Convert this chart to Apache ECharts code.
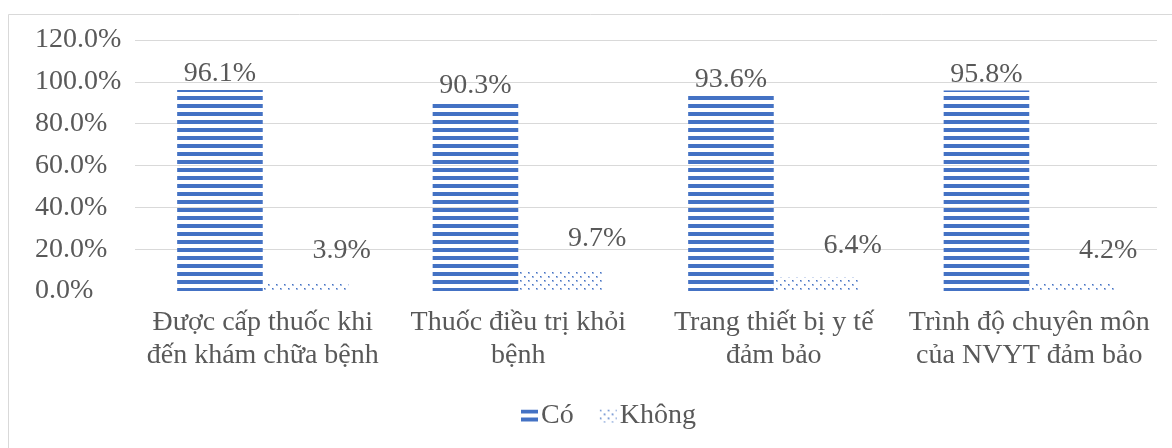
<!DOCTYPE html>
<html>
<head>
<meta charset="utf-8">
<script src="https://cdn.jsdelivr.net/npm/echarts@6/dist/echarts.min.js"></script>
<style>
	html, body { margin: 0; padding: 0; background: #fff; }
	#chart { width: 1172px; height: 448px; }
</style>
</head>
<body>
<div id="chart"></div>
<script>
// categories + values (percent)
const categories = [
	'Được cấp thuốc khi\nđến khám chữa bệnh',
	'Thuốc điều trị khỏi\nbệnh',
	'Trang thiết bị y tế\nđảm bảo',
	'Trình độ chuyên môn\ncủa NVYT đảm bảo',
];
const coValues = [96.1, 90.3, 93.6, 95.8];
const khongValues = [3.9, 9.7, 6.4, 4.2];
const seriesNames = ['Có', 'Không'];

const FONT = '"Liberation Serif", "Times New Roman", serif';
const TEXT = '#595959';
const BLUE = '#4472C4';
const FS = 28;

// Excel style pattern fills
const makeStripes = () => {
	const c = document.createElement('canvas');
	c.width = 8;
	c.height = 8;
	const ctx = c.getContext('2d');
	ctx.fillStyle = BLUE;
	ctx.fillRect(0, 0, 8, 4);
	return c;
};
const makeDots = () => {
	const c = document.createElement('canvas');
	c.width = 8;
	c.height = 8;
	const ctx = c.getContext('2d');
	ctx.fillStyle = 'rgba(68,114,196,0.5)';
	ctx.fillRect(0, 0, 2, 2);
	ctx.fillRect(4, 4, 2, 2);
	ctx.fillStyle = BLUE;
	ctx.fillRect(0, 0, 1, 1);
	ctx.fillRect(4, 4, 1, 1);
	return c;
};

const chart = echarts.init(document.getElementById('chart'));

const option = {
	backgroundColor: '#fff',
	animation: false,
	graphic: [
		{
			type: 'rect',
			shape: { x: 8.5, y: 14.5, width: 1200, height: 500 },
			style: { fill: 'none', stroke: '#D9D9D9', lineWidth: 1 },
			silent: true,
		},
	],
	legend: {
		left: 516,
		top: 397,
		itemWidth: 17,
		itemHeight: 13,
		itemGap: 26,
		icon: 'rect',
		textStyle: { fontFamily: FONT, fontSize: FS, color: TEXT, padding: [0, 0, 0, -2] },
		data: seriesNames,
	},
	grid: { left: 135, right: 15, top: 40, bottom: 157 },
	xAxis: {
		type: 'category',
		data: categories,
		axisLine: { show: false },
		axisTick: { show: false },
		axisLabel: {
			interval: 0,
			margin: 15,
			fontFamily: FONT,
			fontSize: FS,
			lineHeight: 33,
			color: TEXT,
		},
	},
	yAxis: {
		type: 'value',
		min: 0,
		max: 120,
		interval: 20,
		axisLine: { show: false },
		axisTick: { show: false },
		splitLine: {
			lineStyle: {
				color: ['rgba(0,0,0,0)', '#D9D9D9', '#D9D9D9', '#D9D9D9', '#D9D9D9', '#D9D9D9', '#D9D9D9'],
				width: 1,
			},
		},
		axisLabel: {
			align: 'left',
			margin: 100,
			fontFamily: FONT,
			fontSize: FS,
			color: TEXT,
			formatter: (v) => v.toFixed(1) + '%',
		},
	},
	series: [
		{
			name: seriesNames[0],
			type: 'bar',
			data: coValues,
			barGap: '0%',
			barCategoryGap: '33%',
			itemStyle: { color: { image: makeStripes(), repeat: 'repeat' } },
			label: {
				show: true,
				position: 'top',
				distance: 2,
				fontFamily: FONT,
				fontSize: FS,
				color: TEXT,
				formatter: (p) => p.value.toFixed(1) + '%',
			},
		},
		{
			name: seriesNames[1],
			type: 'bar',
			data: khongValues,
			itemStyle: { color: { image: makeDots(), repeat: 'repeat' } },
			label: {
				show: true,
				position: 'top',
				distance: 18,
				offset: [36, 0],
				fontFamily: FONT,
				fontSize: FS,
				color: TEXT,
				formatter: (p) => p.value.toFixed(1) + '%',
			},
		},
	],
};

chart.setOption(option);
</script>
</body>
</html>
